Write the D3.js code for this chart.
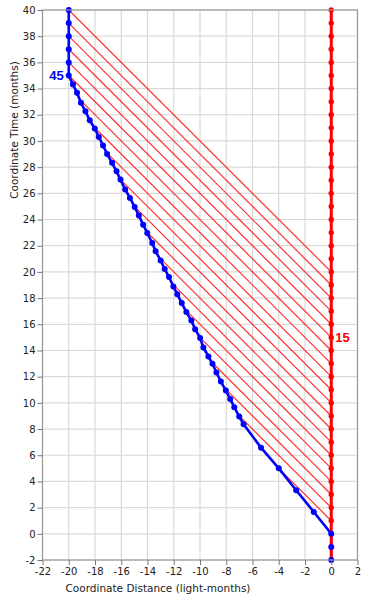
<!DOCTYPE html>
<html>
<head>
<meta charset="utf-8">
<script src="https://cdn.jsdelivr.net/npm/d3@7"></script>
<style>
  body { margin: 0; background: #fff; }
  .axis text { font-family: "DejaVu Sans", sans-serif; font-size: 10px; fill: #222; }
  .axis line { stroke: #777; }
  .ttl { font-family: "DejaVu Sans", sans-serif; font-size: 10.5px; fill: #222; }
</style>
</head>
<body>
<div class="render"></div>
<script>
// traveller (blue) world line: coordinate distance / coordinate time
var blueX = [0, 0, 0, -1.33, -2.67, -4.0, -5.35, -6.68, -7.01, -7.39, -7.70, -8.03, -8.41, -8.75, -9.05, -9.36,
   -9.74, -9.99, -10.37, -10.66, -11.04, -11.39, -11.73, -12.03, -12.36, -12.69, -13.00, -13.38, -13.64,
   -14.02, -14.33, -14.66, -14.98, -15.34, -15.70, -16.06, -16.36, -16.70, -17.08, -17.39, -17.71, -18.02,
   -18.40, -18.73, -19.07, -19.37, -19.68, -20, -20, -20, -20, -20, -20];
var blueT = [-2, -1, 0, 1.67, 3.33, 5.0, 6.58, 8.37, 8.95, 9.67, 10.30, 10.94, 11.63, 12.32, 12.98, 13.54,
   14.23, 14.95, 15.63, 16.29, 16.93, 17.62, 18.3, 18.89, 19.61, 20.22, 20.88, 21.57, 22.21,
   22.97, 23.61, 24.30, 24.96, 25.65, 26.3, 27.05, 27.68, 28.33, 29.01, 29.65, 30.31, 30.95,
   31.58, 32.27, 32.91, 33.68, 34.31, 35, 36, 37, 38, 39, 40];
// stay-at-home (red) world line
var redLineT = [-2, 40];
var redDotT = [1, 2, 3, 4, 5, 6, 7, 8, 9, 10, 11, 12, 13, 14, 15, 16, 17, 18, 19, 20,
   21, 22, 23, 24, 25, 26, 27, 28, 29, 30, 31, 32, 33, 34, 35, 36, 37, 38, 39, 40];
// light signals sent from home
var signalT = [1, 2, 3, 4, 5, 6, 7, 8, 9, 10, 11, 12, 13, 14, 15, 16, 17, 18, 19, 20];
var xTicks = [-22, -20, -18, -16, -14, -12, -10, -8, -6, -4, -2, 0, 2];
var yTicks = [-2, 0, 2, 4, 6, 8, 10, 12, 14, 16, 18, 20, 22, 24, 26, 28, 30, 32, 34, 36, 38, 40];
var blueLabel = {x: -20, t: 35, text: "45"};
var redLabel = {x: 0, t: 15, text: "15"};

var w = 368, h = 600;
var pL = 42.5, pR = 357.5, pT = 10, pB = 560;

var x = d3.scaleLinear().domain([-22, 2]).range([pL, pR]);
var y = d3.scaleLinear().domain([-2, 40]).range([pB, pT]);

var svg = d3.select('.render').append('svg').attr('width', w).attr('height', h);

// grid
svg.append('g').selectAll('line').data(xTicks).enter().append('line')
   .attr('x1', function (d) { return x(d); }).attr('x2', function (d) { return x(d); })
   .attr('y1', pT).attr('y2', pB).attr('stroke', '#d9d9d9').attr('stroke-width', 1.2);
svg.append('g').selectAll('line').data(yTicks).enter().append('line')
   .attr('y1', function (d) { return y(d); }).attr('y2', function (d) { return y(d); })
   .attr('x1', pL).attr('x2', pR).attr('stroke', '#d9d9d9').attr('stroke-width', 1.2);

// light signals: from home at t0 going toward -x until they hit the traveller
var pts = [];
for (var i = 2; i < blueX.length; i++) pts.push([blueX[i], blueT[i]]);
function hit(t0) {
   for (var k = 1; k < pts.length; k++) {
      var g0 = pts[k - 1][1] + pts[k - 1][0] - t0;
      var g1 = pts[k][1] + pts[k][0] - t0;
      if (g0 < 0 && g1 >= 0) {
         var f = -g0 / (g1 - g0);
         return [pts[k - 1][0] + f * (pts[k][0] - pts[k - 1][0]), pts[k - 1][1] + f * (pts[k][1] - pts[k - 1][1])];
      }
   }
   return pts[pts.length - 1];
}
svg.append('g').attr('class', 'signals').selectAll('line').data(signalT).enter().append('line')
   .attr('x1', x(0)).attr('y1', function (d) { return y(d); })
   .attr('x2', function (d) { return x(hit(d)[0]); })
   .attr('y2', function (d) { return y(hit(d)[1]); })
   .style('stroke', '#ff3030').style('stroke-width', '1.2px');

// blue line
var line = d3.line().x(function (d) { return x(d[0]); }).y(function (d) { return y(d[1]); });
svg.append('path').datum(blueX.map(function (d, i) { return [d, blueT[i]]; }))
   .attr('d', line).attr('fill', 'none').attr('stroke', '#0000ff').attr('stroke-width', 2.6);

// red line + dots
svg.append('line').attr('x1', x(0)).attr('x2', x(0)).attr('y1', y(redLineT[0])).attr('y2', y(redLineT[1]))
   .attr('stroke', '#ff0000').attr('stroke-width', 3);
svg.append('g').selectAll('circle').data(redDotT).enter().append('circle')
   .attr('cx', x(0)).attr('cy', function (d) { return y(d); }).attr('r', 2.7).attr('fill', '#ff0000');

// blue dots
svg.append('g').selectAll('circle').data(blueX).enter().append('circle')
   .attr('cx', function (d) { return x(d); }).attr('cy', function (d, i) { return y(blueT[i]); })
   .attr('r', 3).attr('fill', '#0000ff');

// frame
svg.append('rect').attr('x', pL).attr('y', pT).attr('width', pR - pL).attr('height', pB - pT)
   .attr('fill', 'none').attr('stroke', '#9a9a9a').attr('stroke-width', 1.2);

// axes
var fmt = function (d) { return String(d); };
var yAxis = d3.axisLeft(y).tickValues(yTicks).tickFormat(fmt).tickSize(5).tickPadding(2);
var xAxis = d3.axisBottom(x).tickValues(xTicks).tickFormat(fmt).tickSize(5).tickPadding(3);
svg.append('g').attr('class', 'axis').attr('transform', 'translate(' + pL + ',0)').call(yAxis)
   .call(function (g) { g.select('.domain').remove(); });
svg.append('g').attr('class', 'axis').attr('transform', 'translate(0,' + pB + ')').call(xAxis)
   .call(function (g) { g.select('.domain').remove(); });

// titles
svg.append('text').attr('class', 'ttl').attr('x', 158).attr('y', 592).attr('text-anchor', 'middle')
   .text('Coordinate Distance (light-months)');
svg.append('text').attr('class', 'ttl').attr('text-anchor', 'middle')
   .attr('transform', 'translate(18,130)rotate(-90)').text('Coordinate Time (months)');

// point labels
svg.append('text').attr('x', x(blueLabel.x) - 5).attr('y', y(blueLabel.t)).attr('dy', '0.35em')
   .attr('text-anchor', 'end').style('font-family', 'Liberation Sans, sans-serif').style('font-size', '13px')
   .style('font-weight', 'bold').attr('fill', '#0000ff').text(blueLabel.text);
svg.append('text').attr('x', x(redLabel.x) + 4).attr('y', y(redLabel.t)).attr('dy', '0.35em')
   .style('font-family', 'Liberation Sans, sans-serif').style('font-size', '13px')
   .style('font-weight', 'bold').attr('fill', '#ff0000').text(redLabel.text);
</script>
</body>
</html>
